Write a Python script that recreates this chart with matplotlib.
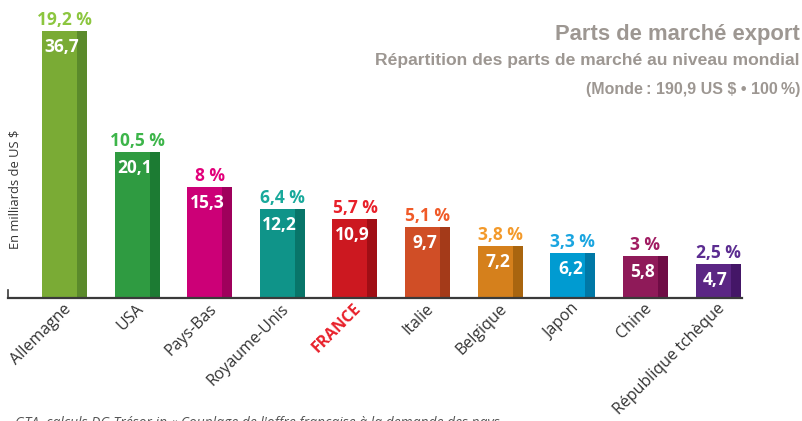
import matplotlib
matplotlib.use("Agg")
import matplotlib.pyplot as plt
from matplotlib.lines import Line2D

countries = ["Allemagne", "USA", "Pays-Bas", "Royaume-Unis", "FRANCE", "Italie",
             "Belgique", "Japon", "Chine", "République tchèque"]
values = [36.7, 20.1, 15.3, 12.2, 10.9, 9.7, 7.2, 6.2, 5.8, 4.7]
value_labels = ["36,7", "20,1", "15,3", "12,2", "10,9", "9,7", "7,2", "6,2", "5,8", "4,7"]
share_labels = ["19,2 %", "10,5 %", "8 %", "6,4 %", "5,7 %", "5,1 %", "3,8 %", "3,3 %", "3 %", "2,5 %"]

front_colors = ["#7aab35", "#2f9b41", "#cc0077", "#0f9489", "#cc1820", "#d04e26",
                "#d5801c", "#009bd1", "#8f1a59", "#5b2684"]
side_colors = ["#5b8a2b", "#1c7b33", "#9f005c", "#087569", "#a00e15", "#a43a19",
               "#a9650f", "#0078a6", "#6f0c45", "#441667"]
share_colors = ["#8cc63f", "#3db54a", "#e2007a", "#19a99b", "#e8202a", "#f05a28",
                "#f39a2b", "#1aa5e0", "#a01c62", "#5c2d91"]

LABEL_FONT = ["Open Sans", "DejaVu Sans"]
TITLE_FONT = ["Liberation Sans", "DejaVu Sans"]

fig = plt.figure(figsize=(8.03, 4.21), dpi=100)
ax = fig.add_axes([8 / 803, 1 - 298 / 421, 734 / 803, 291 / 421])
ax.set_xlim(-0.778, 9.33)
ax.set_ylim(0, 40)

px = 40 / 291.0  # data units per pixel (vertical)

x = list(range(len(countries)))
for i, v in enumerate(values):
    ax.bar(i - 0.31, v, width=0.482, align="edge", color=front_colors[i], linewidth=0, zorder=2)
    ax.bar(i + 0.172, v, width=0.138, align="edge", color=side_colors[i], linewidth=0, zorder=2)
    ax.text(i - 0.035, v - 21 * px, value_labels[i], ha="center", va="baseline",
            color="white", fontsize=12.5, fontweight="bold", family=LABEL_FONT, zorder=3)
    ax.text(i, v + 6 * px, share_labels[i], ha="center", va="baseline",
            color=share_colors[i], fontsize=12.5, fontweight="bold", family=LABEL_FONT, zorder=3)

for s in ax.spines.values():
    s.set_visible(False)
ax.set_yticks([])
ax.set_xticks([i - 0.02 for i in x])
ax.set_xticklabels(countries, rotation=45, ha="right", rotation_mode="anchor",
                   fontsize=11.5, family=LABEL_FONT, color="#333333")
ax.tick_params(axis="x", length=0, pad=2)
for i, lab in enumerate(ax.get_xticklabels()):
    if countries[i] == "FRANCE":
        lab.set_color("#e8202a")
        lab.set_fontweight("bold")

# baseline and small left tick
ax.add_line(Line2D([-0.778, 9.33], [0, 0], color="#3a3a3a", lw=1.6, clip_on=False, zorder=4))
ax.add_line(Line2D([-0.778, -0.778], [0, 8 * px], color="#3a3a3a", lw=1.2, clip_on=False, zorder=4))

fig.text(15 / 803, 1 - 189 / 421, "En milliards de US $", rotation=90, ha="center", va="center",
         fontsize=9.3, color="#333333", family=LABEL_FONT)

gray = "#9d9792"
fig.text(800 / 803, 1 - 40 / 421, "Parts de marché export", ha="right", va="baseline",
         fontsize=15.8, fontweight="bold", color=gray, family=TITLE_FONT)
fig.text(800 / 803, 1 - 65 / 421, "Répartition des parts de marché au niveau mondial",
         ha="right", va="baseline", fontsize=12.6, fontweight="bold", color=gray, family=TITLE_FONT)
fig.text(800 / 803, 1 - 94 / 421, "(Monde\u2009: 190,9 US $ • 100\u2009%)",
         ha="right", va="baseline", fontsize=11.5, fontweight="bold", color=gray, family=TITLE_FONT)

fig.text(7 / 803, 1 - 416 / 421,
         "- GTA, calculs DG Trésor in « Couplage de l'offre française à la demande des pays",
         ha="left", va="top", fontsize=10, style="italic", color="#555555", family=LABEL_FONT)

fig.savefig("out.png", dpi=100)
